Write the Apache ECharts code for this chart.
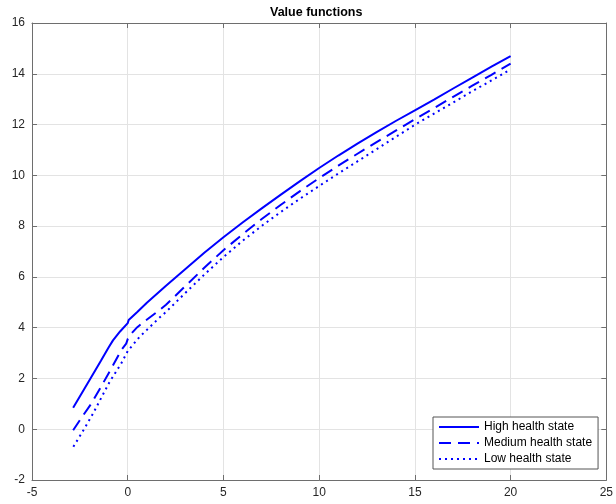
<!DOCTYPE html>
<html>
<head>
<meta charset="utf-8">
<script src="https://cdn.jsdelivr.net/npm/echarts@6/dist/echarts.min.js"></script>
<style>
html,body{margin:0;padding:0;background:#fff;}
#c{width:616px;height:504px;}
</style>
</head>
<body>
<div id="c"></div>
<script>
// ---- data ----
const seriesNames = ['High health state', 'Medium health state', 'Low health state'];
const xHigh = [-2.85, -2.0, -1.4, -1.0, -0.77, -0.4, 0, 0.05, 0.5, 1, 2, 3, 4, 5, 6, 7, 8, 9, 10, 11, 12, 13, 14, 15, 16, 17, 18, 19, 20];
const yHigh = [0.85, 1.93, 2.70, 3.22, 3.50, 3.85, 4.18, 4.30, 4.62, 4.98, 5.65, 6.30, 6.95, 7.56, 8.14, 8.70, 9.24, 9.77, 10.29, 10.78, 11.25, 11.70, 12.14, 12.56, 12.98, 13.42, 13.85, 14.28, 14.70];
const xMedium = [-2.85, -2.4, -1.9, -1.38, -0.86, -0.34, -0.08, 0, 0.18, 0.5, 0.95, 1.64, 2, 3, 4, 5, 6, 7, 8, 9, 10, 11, 12, 13, 14, 15, 16, 17, 18, 19, 20];
const yMedium = [-0.04, 0.47, 1.01, 1.69, 2.39, 3.11, 3.37, 3.55, 3.76, 4.02, 4.29, 4.68, 4.90, 5.63, 6.36, 7.05, 7.68, 8.28, 8.84, 9.38, 9.89, 10.38, 10.85, 11.31, 11.76, 12.21, 12.65, 13.09, 13.53, 13.96, 14.40];
const xLow = [-2.84, -2.3, -1.81, -0.95, -0.34, 0, 0.61, 1.64, 2, 3, 4, 5, 6, 7, 8, 9, 10, 11, 12, 13, 14, 15, 16, 17, 18, 19, 20];
const yLow = [-0.69, -0.02, 0.62, 1.86, 2.59, 3.08, 3.63, 4.38, 4.62, 5.36, 6.09, 6.78, 7.42, 8.01, 8.56, 9.08, 9.58, 10.07, 10.55, 11.03, 11.51, 11.99, 12.43, 12.87, 13.31, 13.74, 14.17];
const xTicks = {min: -5, max: 25, interval: 5};
const yTicks = {min: -2, max: 16, interval: 2};
const titleText = 'Value functions';

// ---- chart ----
const pair = (xs, ys) => xs.map((x, i) => [x, ys[i]]);
const font = 'Liberation Sans, Arial, Helvetica, sans-serif';
const axisCol = '#6e6e6e';
const gridCol = '#e3e3e3';
const chart = echarts.init(document.getElementById('c'), null, {renderer: 'canvas'});

function axisBase(showLabel, withSplit) {
  return {
    type: 'value',
    axisLine: {show: true, onZero: false, lineStyle: {color: axisCol, width: 1}},
    axisTick: {show: true, inside: true, length: 5, lineStyle: {color: axisCol, width: 1}},
    axisLabel: {show: showLabel, color: '#262626', fontSize: 12, fontFamily: font, margin: 7},
    splitLine: {show: withSplit, lineStyle: {color: gridCol, width: 1}}
  };
}

const option = {
  backgroundColor: '#fff',
  animation: false,
  title: {
    text: titleText,
    left: 270, top: 6, padding: 0,
    textStyle: {fontSize: 12.5, fontWeight: 'bold', color: '#000', fontFamily: font}
  },
  grid: {left: 32, right: 7, top: 23, bottom: 24, containLabel: false},
  xAxis: [
    Object.assign(axisBase(true, true), {position: 'bottom', min: xTicks.min, max: xTicks.max, interval: xTicks.interval}),
    Object.assign(axisBase(false, false), {position: 'top', min: xTicks.min, max: xTicks.max, interval: xTicks.interval})
  ],
  yAxis: [
    Object.assign(axisBase(true, true), {position: 'left', min: yTicks.min, max: yTicks.max, interval: yTicks.interval}),
    Object.assign(axisBase(false, false), {position: 'right', min: yTicks.min, max: yTicks.max, interval: yTicks.interval})
  ],
  legend: {
    orient: 'vertical',
    left: 433, top: 417,
    padding: [3, 6, 3, 5],
    itemWidth: 40, itemHeight: 14, itemGap: 2,
    backgroundColor: '#fff',
    borderColor: '#555', borderWidth: 1, borderRadius: 0,
    itemStyle: {opacity: 0},
    textStyle: {fontSize: 12, color: '#000', fontFamily: font, lineHeight: 14},
    data: seriesNames
  },
  series: [
    {name: seriesNames[0], type: 'line', data: pair(xHigh, yHigh), showSymbol: false, symbol: 'none',
     lineStyle: {color: '#0000ff', width: 2, type: 'solid'}, itemStyle: {color: '#0000ff'}, z: 5},
    {name: seriesNames[1], type: 'line', data: pair(xMedium, yMedium), showSymbol: false, symbol: 'none',
     lineStyle: {color: '#0000ff', width: 2, type: [12, 7]}, itemStyle: {color: '#0000ff'}, z: 5},
    {name: seriesNames[2], type: 'line', data: pair(xLow, yLow), showSymbol: false, symbol: 'none',
     lineStyle: {color: '#0000ff', width: 2, type: [2, 4]}, itemStyle: {color: '#0000ff'}, z: 5}
  ]
};
chart.setOption(option);
</script>
</body>
</html>
